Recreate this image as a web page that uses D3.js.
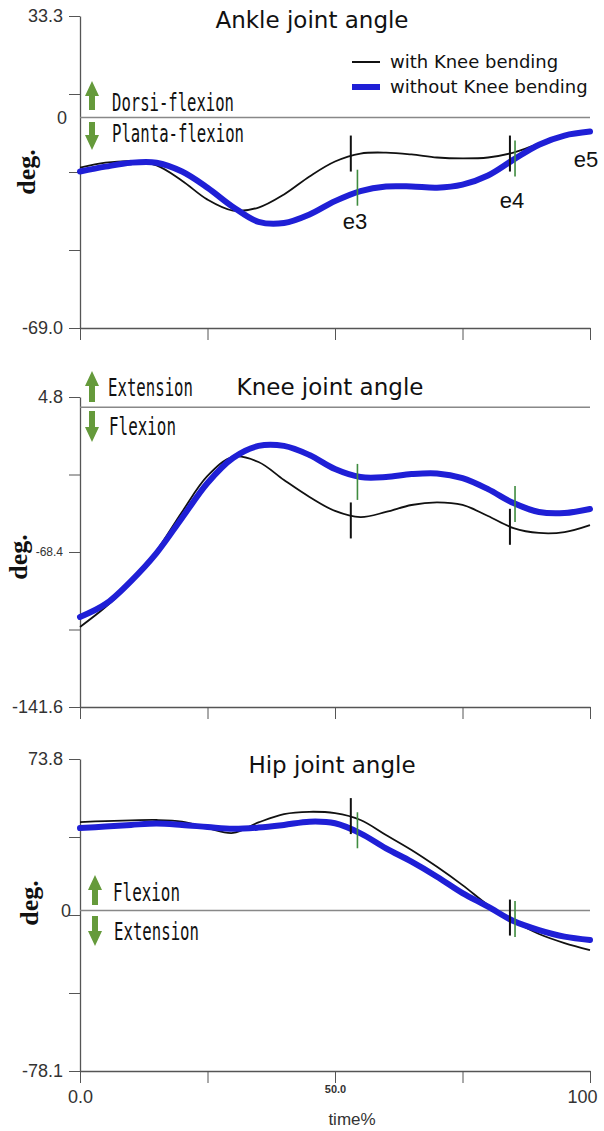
<!DOCTYPE html>
<html>
<head>
<meta charset="utf-8">
<script src="https://cdn.jsdelivr.net/npm/d3@7"></script>
<style>
  body { margin: 0; background: #fff; }
  svg text { font-family: "Liberation Sans", Arial, sans-serif; fill: #222; }
  .title, .legend { font-family: "DejaVu Sans", sans-serif; fill: #111; }
  .side { font-family: "DejaVu Sans Mono", monospace; fill: #111; }
  .deg { font-family: "Liberation Serif", "Times New Roman", serif; font-weight: bold; fill: #111; }
</style>
</head>
<body>
<svg id="chart" width="604" height="1131"></svg>
<script>
'use strict';

// time in % of the movement
const timePct = [0, 5, 10, 15, 20, 25, 30, 35, 40, 45, 50, 55, 60, 65, 70, 75, 80, 85, 90, 95, 100];

// joint angles (deg.)
const ankleWith =    [-16.4, -14.8, -14.3, -15.7, -20.7, -26.9, -30.5, -29.5, -25.2, -19.3, -14.4, -11.8, -11.5, -12.1, -13.1, -13.4, -13.1, -11.5, -8.5, -5.6, -4.6];
const ankleWithout = [-17.7, -16.1, -14.8, -14.8, -17.7, -23.0, -29.3, -34.2, -34.6, -31.8, -27.4, -24.1, -22.6, -22.6, -23.0, -22.0, -19.0, -13.8, -8.9, -5.9, -4.6];
const kneeWith =     [-103.8, -94.4, -83.0, -67.9, -49.5, -32.5, -23.5, -25.9, -34.4, -42.4, -49.0, -51.9, -49.5, -46.2, -45.0, -46.2, -51.4, -57.1, -59.4, -59.0, -55.7];
const kneeWithout =  [-99.1, -93.0, -82.1, -68.9, -52.3, -35.8, -24.0, -18.3, -18.3, -22.6, -29.2, -33.0, -33.0, -31.6, -31.3, -33.5, -38.7, -45.3, -49.5, -50.0, -48.1];
const hipWith =      [43.1, 43.6, 43.9, 44.1, 43.3, 40.2, 37.8, 42.9, 47.0, 48.1, 47.4, 44.1, 36.8, 29.5, 21.3, 12.4, 2.7, -5.1, -11.4, -15.8, -19.2];
const hipWithout =   [40.2, 40.9, 41.7, 42.4, 41.7, 40.7, 39.8, 40.4, 41.7, 43.3, 42.5, 37.6, 30.3, 23.8, 16.5, 8.5, 1.9, -5.1, -9.5, -12.7, -14.3];

// event marks (e3, e4): time and angle at the mark
const markTimeWith = [53.1, 84.3];
const markTimeWithout = [54.4, 85.3];
const ankleMarkWith = [-11.8, -11.8];
const ankleMarkWithout = [-23.0, -13.4];
const kneeMarkWith = [-53.5, -56.5];
const kneeMarkWithout = [-35.3, -45.7];
const hipMarkWith = [46.0, -3.4];
const hipMarkWithout = [39.1, -4.1];

// event labels in the ankle panel
const eventNames = ['e3', 'e4', 'e5'];
const eventTime = [53.9, 84.7, 99.2];
const eventAngle = [-36.4, -29.8, -16.1];

// axes
const ankleDomain = [-69.0, 33.3];
const kneeDomain = [-141.6, 4.8];
const hipDomain = [-78.1, 73.8];
const ankleTickLabels = ['33.3', '', '', '', '-69.0'];
const kneeTickLabels = ['4.8', '', '-68.4', '', '-141.6'];
const hipTickLabels = ['73.8', '', '', '', '-78.1'];
const xTicks = [0, 25, 50, 75, 100];
const xTickLabels = ['0.0', '', '50.0', '', '100'];

const seriesNames = ['with Knee bending', 'without Knee bending'];

const BLUE = '#1f1fd6';
const GREEN = '#659a3b';
const MARK_GREEN = '#3f8c3f';

const svg = d3.select('#chart');
const x = d3.scaleLinear().domain([0, 100]).range([80, 590]);

const panels = [
    { title: 'Ankle joint angle', titleX: 312, titleY: 28, top: 16, bottom: 328,
      domain: ankleDomain, labels: ankleTickLabels, zeroLabel: '0', zeroLabelX: 67,
      withData: ankleWith, withoutData: ankleWithout, markWith: ankleMarkWith, markWithout: ankleMarkWithout,
      degX: 35, degY: 172, arrowX: 92,
      up: { y0: 81, y1: 110, text: 'Dorsi-flexion', tx: 112, ty: 111, len: 122 },
      down: { y0: 122, y1: 150, text: 'Planta-flexion', tx: 112, ty: 142, len: 132 } },
    { title: 'Knee joint angle', titleX: 330, titleY: 395, top: 397, bottom: 707,
      domain: kneeDomain, labels: kneeTickLabels, zeroLabel: null,
      withData: kneeWith, withoutData: kneeWithout, markWith: kneeMarkWith, markWithout: kneeMarkWithout,
      degX: 27, degY: 557, arrowX: 92,
      up: { y0: 371, y1: 402, text: 'Extension', tx: 108, ty: 396, len: 85 },
      down: { y0: 411, y1: 442, text: 'Flexion', tx: 109, ty: 435, len: 67 } },
    { title: 'Hip joint angle', titleX: 332, titleY: 773, top: 759, bottom: 1071,
      domain: hipDomain, labels: hipTickLabels, zeroLabel: '0', zeroLabelX: 71,
      withData: hipWith, withoutData: hipWithout, markWith: hipMarkWith, markWithout: hipMarkWithout,
      degX: 38, degY: 903, arrowX: 95,
      up: { y0: 875, y1: 905, text: 'Flexion', tx: 113, ty: 901, len: 67 },
      down: { y0: 916, y1: 946, text: 'Extension', tx: 114, ty: 940, len: 85 } }
];

function arrowPath(cx, y0, y1, up) {
    // head 15px tall, 14px wide, shaft 6px wide
    const head = 15, hw = 7, sw = 3;
    if (up) {
        return `M${cx},${y0} L${cx + hw},${y0 + head} L${cx + sw},${y0 + head} L${cx + sw},${y1}
                L${cx - sw},${y1} L${cx - sw},${y0 + head} L${cx - hw},${y0 + head} Z`;
    }
    return `M${cx},${y1} L${cx + hw},${y1 - head} L${cx + sw},${y1 - head} L${cx + sw},${y0}
            L${cx - sw},${y0} L${cx - sw},${y1 - head} L${cx - hw},${y1 - head} Z`;
}

panels.forEach((p, pi) => {
    const y = d3.scaleLinear().domain(p.domain).range([p.bottom, p.top]);
    const g = svg.append('g');
    const step = (p.domain[1] - p.domain[0]) / 4;
    const yTicks = d3.range(5).map(i => p.domain[1] - i * step);
    const isLast = pi === panels.length - 1;

    // y axis
    const yAxis = g.append('g')
        .attr('transform', `translate(${x(0)},0)`)
        .style('color', '#555')
        .call(d3.axisLeft(y).tickValues(yTicks).tickSize(11).tickSizeOuter(0).tickPadding(6)
            .tickFormat((d, i) => p.labels[i]));
    yAxis.select('.domain').attr('stroke-width', 1.3);
    yAxis.selectAll('text')
        .style('font-family', '"Liberation Sans", Arial, sans-serif')
        .style('font-size', d => (Math.abs(d - (p.domain[0] + 2 * step)) < 1e-6 ? '12px' : '18px'))
        .style('fill', '#333');

    // x axis
    const xAxis = g.append('g')
        .attr('transform', `translate(0,${p.bottom})`)
        .style('color', '#555')
        .call(d3.axisBottom(x).tickValues(xTicks).tickSize(12).tickSizeOuter(0)
            .tickFormat((d, i) => (isLast ? xTickLabels[i] : '')));
    xAxis.select('.domain').attr('stroke-width', 1.3);
    xAxis.selectAll('text')
        .style('font-family', '"Liberation Sans", Arial, sans-serif')
        .style('fill', '#333')
        .style('font-size', (d, i) => (i === 2 ? '11px' : '18px'))
        .style('font-weight', (d, i) => (i === 2 ? 'bold' : 'normal'))
        .attr('y', (d, i) => (i === 2 ? 14 : 19))
        .attr('dx', (d, i) => (i === 4 ? -8 : 0));

    // zero line
    g.append('line')
        .attr('x1', x(0)).attr('x2', x(100))
        .attr('y1', y(0)).attr('y2', y(0))
        .attr('stroke', '#888').attr('stroke-width', 1.5);
    if (p.zeroLabel) {
        g.append('text')
            .attr('x', p.zeroLabelX).attr('y', y(0)).attr('dy', '0.35em')
            .attr('text-anchor', 'end')
            .style('font-size', '18px').style('fill', '#333')
            .text(p.zeroLabel);
    }

    // curves
    const line = d3.line()
        .x((d, i) => x(timePct[i]))
        .y(d => y(d))
        .curve(d3.curveCatmullRom.alpha(0.5));
    g.append('path').datum(p.withData)
        .attr('d', line).attr('fill', 'none')
        .attr('stroke', '#111').attr('stroke-width', 1.8);
    g.append('path').datum(p.withoutData)
        .attr('d', line).attr('fill', 'none')
        .attr('stroke', BLUE).attr('stroke-width', 6).attr('stroke-linecap', 'round');

    // event marks
    g.selectAll('.mark-with').data(p.markWith).enter().append('line')
        .attr('x1', (d, i) => x(markTimeWith[i])).attr('x2', (d, i) => x(markTimeWith[i]))
        .attr('y1', d => y(d) - 18).attr('y2', d => y(d) + 18)
        .attr('stroke', '#111').attr('stroke-width', 2);
    g.selectAll('.mark-without').data(p.markWithout).enter().append('line')
        .attr('x1', (d, i) => x(markTimeWithout[i])).attr('x2', (d, i) => x(markTimeWithout[i]))
        .attr('y1', d => y(d) - 18).attr('y2', d => y(d) + 18)
        .attr('stroke', MARK_GREEN).attr('stroke-width', 1.6);

    // title
    g.append('text').attr('class', 'title')
        .attr('x', p.titleX).attr('y', p.titleY)
        .attr('text-anchor', 'middle')
        .style('font-size', '23px')
        .text(p.title);

    // deg. label
    g.append('text').attr('class', 'deg')
        .attr('transform', `translate(${p.degX},${p.degY}) rotate(-90)`)
        .attr('text-anchor', 'middle')
        .style('font-size', '26px')
        .text('deg.');

    // direction arrows
    [p.up, p.down].forEach((a, k) => {
        g.append('path')
            .attr('d', arrowPath(p.arrowX, a.y0, a.y1, k === 0))
            .attr('fill', GREEN);
        g.append('text').attr('class', 'side')
            .attr('x', a.tx).attr('y', a.ty)
            .attr('textLength', a.len).attr('lengthAdjust', 'spacingAndGlyphs')
            .style('font-size', '24px')
            .text(a.text);
    });

    if (pi === 0) {
        g.selectAll('.event').data(eventNames).enter().append('text')
            .attr('x', (d, i) => x(eventTime[i]))
            .attr('y', (d, i) => y(eventAngle[i]))
            .attr('text-anchor', 'middle')
            .style('font-size', '22px').style('fill', '#111')
            .text(d => d);

        // legend
        const lg = g.append('g');
        seriesNames.forEach((name, i) => {
            const ly = 62 + i * 25;
            lg.append('line')
                .attr('x1', 352).attr('x2', 380).attr('y1', ly).attr('y2', ly)
                .attr('stroke', i === 0 ? '#111' : BLUE)
                .attr('stroke-width', i === 0 ? 2 : 6);
            lg.append('text').attr('class', 'legend')
                .attr('x', 390).attr('y', ly).attr('dy', '0.36em')
                .style('font-size', '18px')
                .text(name);
        });
    }
});

// x axis title
svg.append('text')
    .attr('x', 352).attr('y', 1125)
    .attr('text-anchor', 'middle')
    .style('font-size', '17px').style('fill', '#333')
    .text('time%');
</script>
</body>
</html>
